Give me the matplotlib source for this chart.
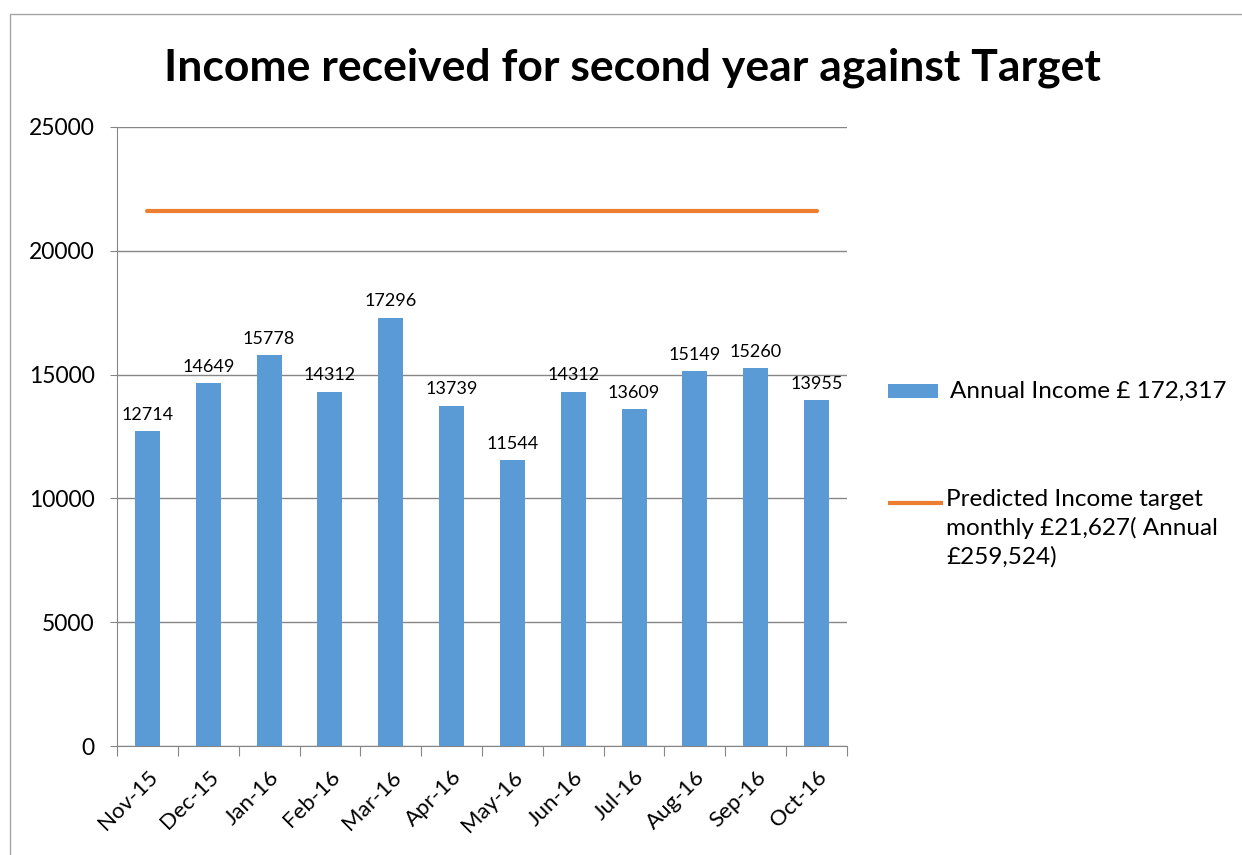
import matplotlib.pyplot as plt
from matplotlib.patches import Rectangle
from matplotlib.lines import Line2D

plt.rcParams['font.family'] = ['Lato', 'DejaVu Sans']

months = ["Nov-15", "Dec-15", "Jan-16", "Feb-16", "Mar-16", "Apr-16",
          "May-16", "Jun-16", "Jul-16", "Aug-16", "Sep-16", "Oct-16"]
income = [12714, 14649, 15778, 14312, 17296, 13739,
          11544, 14312, 13609, 15149, 15260, 13955]
target = [21627] * 12
income_label = "Annual Income £ 172,317"
target_label = "Predicted Income target\nmonthly £21,627( Annual\n£259,524)"

blue = "#5B9BD5"
orange = "#ED7D31"
grid = "#868686"

W, H = 1242, 855
fig = plt.figure(figsize=(W / 100, H / 100), dpi=100)

# chart frame edge (top + left visible)
fig.add_artist(Rectangle((10 / W, -0.1), 1.2, 1 - 14 / H + 0.1, transform=fig.transFigure,
                         fill=False, edgecolor="#A6A6A6", linewidth=1))

ax = fig.add_axes([117 / W, 1 - 746 / H, 730 / W, 619 / H])
x = list(range(len(months)))
ax.bar(x, income, width=0.41, color=blue, zorder=3)
ax.plot(x, target, color=orange, linewidth=3, solid_capstyle="round", zorder=4)

for xi, v in zip(x, income):
    ax.annotate(str(v), (xi, v), xytext=(0, 6), textcoords="offset points",
                ha="center", va="bottom", fontsize=13)

ax.set_xlim(-0.5, len(months) - 0.5)
ax.set_ylim(0, 25000)
ax.set_yticks(range(0, 25001, 5000))
ax.tick_params(axis="y", labelsize=16.5, length=5, color=grid, pad=11)
ax.yaxis.grid(True, color=grid, linewidth=1, zorder=0)

ax.set_xticks([i - 0.5 for i in range(len(months) + 1)], minor=False)
ax.set_xticklabels([""] * (len(months) + 1))
ax.tick_params(axis="x", length=7, color=grid)
ax.set_xticks(x, minor=True)
ax.set_xticklabels(months, minor=True, rotation=45, ha="right", rotation_mode="anchor", fontsize=16)
ax.tick_params(axis="x", which="minor", length=0, pad=15)

for s in ["top", "right"]:
    ax.spines[s].set_visible(False)
for s in ["left", "bottom"]:
    ax.spines[s].set_color(grid)

fig.text(632 / W, 1 - 68 / H, "Income received for second year against Target",
         ha="center", va="center", fontsize=32, fontweight="bold")

# legend
fig.add_artist(Rectangle((888 / W, 1 - 398 / H), 50 / W, 14 / H, transform=fig.transFigure,
                         facecolor=blue, edgecolor="none"))
fig.text(950 / W, 1 - 391 / H, income_label, ha="left", va="center", fontsize=17.5)
fig.add_artist(Line2D([888 / W, 943 / W], [1 - 503 / H] * 2, transform=fig.transFigure,
                      color=orange, linewidth=3, solid_capstyle="butt"))
fig.text(946 / W, 1 - 489 / H, target_label, ha="left", va="top", fontsize=17.5, linespacing=1.38)

fig.savefig("out.png", dpi=100)
